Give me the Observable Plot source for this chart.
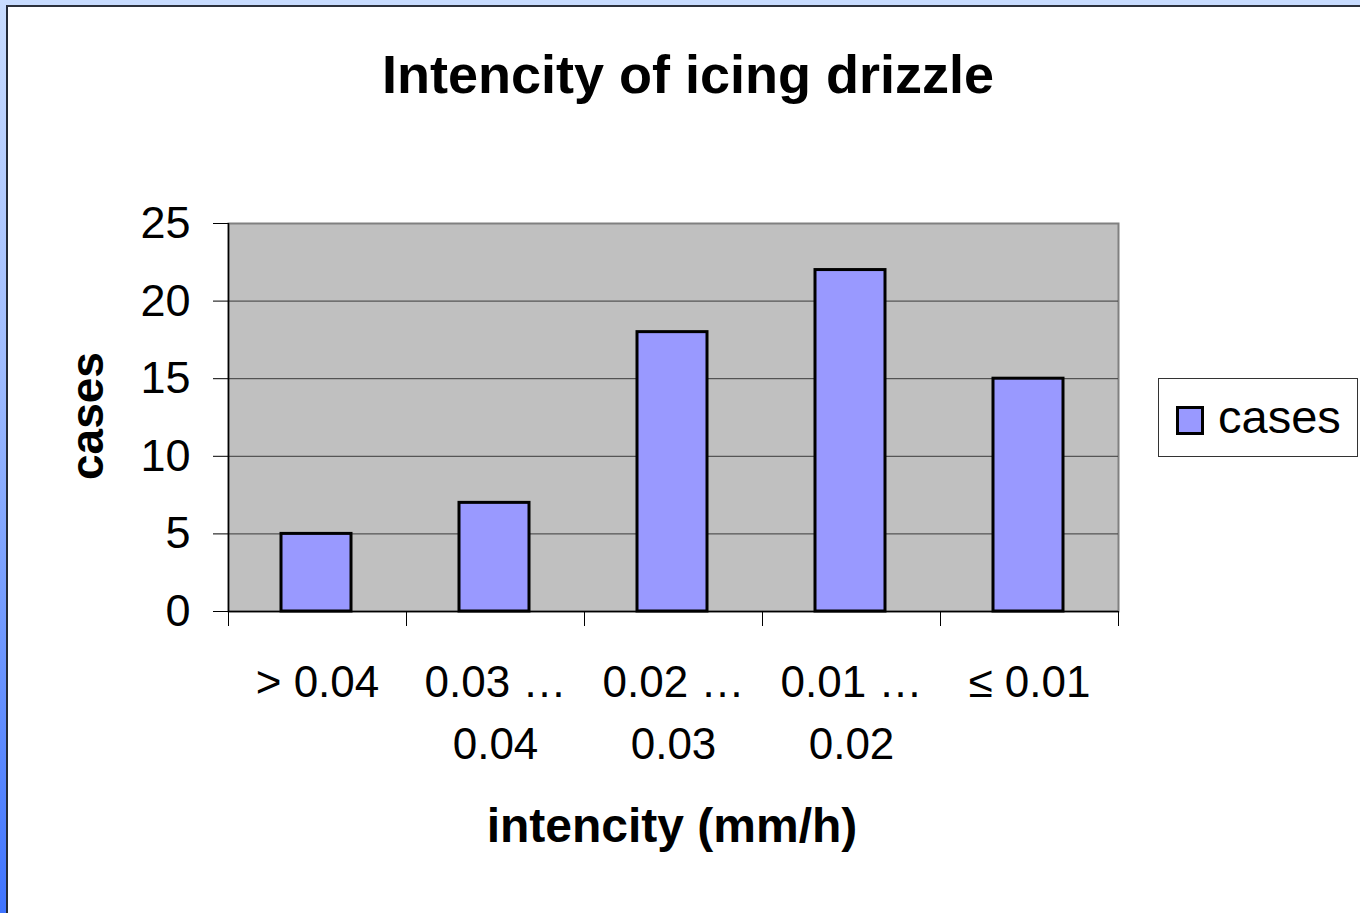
<!DOCTYPE html>
<html>
<head>
<meta charset="utf-8">
<script src="https://cdn.jsdelivr.net/npm/d3@7"></script>
<script src="https://cdn.jsdelivr.net/npm/@observablehq/plot@0.6"></script>
<style>
  html, body { margin: 0; padding: 0; background: #fff; }
  #page { position: relative; width: 1360px; height: 913px; overflow: hidden; background: #fff;
          font-family: "Liberation Sans", Arial, sans-serif; color: #000; }
  #topband { position: absolute; left: 0; top: 0; width: 1360px; height: 5px; background: #c8dcff; }
  #leftband { position: absolute; left: 0; top: 0; width: 6px; height: 913px;
              background: linear-gradient(#c8dcff, #9fbcff 40%, #3f74ff); }
  #frame { position: absolute; left: 6px; top: 5px; width: 1360px; height: 920px;
           border-left: 2px solid #232a38; border-top: 2px solid #2c313c; box-sizing: border-box; background: #fff; }
  .t { position: absolute; white-space: nowrap; line-height: 1; }
  #title { left: 688px; top: 47px; transform: translateX(-50%); font-size: 54px; font-weight: bold; }
  #xtitle { left: 672px; top: 802px; transform: translateX(-50%); font-size: 48px; font-weight: bold; }
  #ytitle { left: 87px; top: 416px; transform: translate(-50%, -50%) rotate(-90deg); font-size: 46px; font-weight: bold; }
  #chart { position: absolute; left: 0; top: 140px; }
  #legend { position: absolute; left: 1158px; top: 378px; width: 200px; height: 79px;
            border: 1px solid #333; box-sizing: border-box; background: #fff; }
  #swatch { position: absolute; left: 17px; top: 27px; width: 28px; height: 29px; box-sizing: border-box;
            background: #9999ff; border: 3px solid #000; }
  #legtext { left: 59px; top: 14px; font-size: 47px; }
</style>
</head>
<body>
<div id="page">
  <div id="topband"></div>
  <div id="leftband"></div>
  <div id="frame"></div>
  <div id="title" class="t">Intencity of icing drizzle</div>
  <div id="chart"></div>
  <div id="ytitle" class="t">cases</div>
  <div id="xtitle" class="t">intencity (mm/h)</div>
  <div id="legend"><div id="swatch"></div><div id="legtext" class="t">cases</div></div>
</div>
<script>
const categories = ["> 0.04", "0.03 …\n0.04", "0.02 …\n0.03", "0.01 …\n0.02", "≤ 0.01"];
const cases = [5, 7, 18, 22, 15];
const yTicks = [0, 5, 10, 15, 20, 25];
const gridValues = [5, 10, 15, 20];

const data = categories.map((c, i) => ({category: c, cases: cases[i]}));

const W = 1150, H = 730, ML = 228, MR = 32;
const half = (W - ML - MR) / categories.length / 2;

const chart = Plot.plot({
  width: W,
  height: H,
  marginLeft: ML,
  marginRight: MR,
  marginTop: 83,
  marginBottom: 259,
  style: {fontFamily: "'Liberation Sans', Arial, sans-serif", background: "transparent", color: "#000", overflow: "visible"},
  x: {domain: categories, padding: 0, label: null},
  y: {domain: [0, 25], label: null},
  marks: [
    Plot.frame({fill: "#c0c0c0", stroke: "#808080", strokeWidth: 2}),
    Plot.ruleY(gridValues, {stroke: "#3a3a3a", strokeWidth: 1}),
    Plot.barY(data, {x: "category", y: "cases", fill: "#9999ff", stroke: "#000", strokeWidth: 3, insetLeft: 53, insetRight: 55}),
    Plot.ruleY([0], {stroke: "#000", strokeWidth: 1.5}),
    Plot.ruleX([categories[0]], {dx: -half, stroke: "#000", strokeWidth: 1.5}),
    Plot.axisY({ticks: yTicks, tickSize: 15, tickPadding: 23, fontSize: 45, label: null}),
    Plot.axisX({tickSize: 15, text: null, dx: -half, label: null}),
    Plot.axisX([categories[categories.length - 1]], {tickSize: 15, text: null, dx: half, label: null}),
    Plot.axisX({tickSize: 0, tickPadding: 42, fontSize: 44, lineHeight: 1.4, label: null})
  ]
});
document.getElementById("chart").appendChild(chart);
</script>
</body>
</html>
